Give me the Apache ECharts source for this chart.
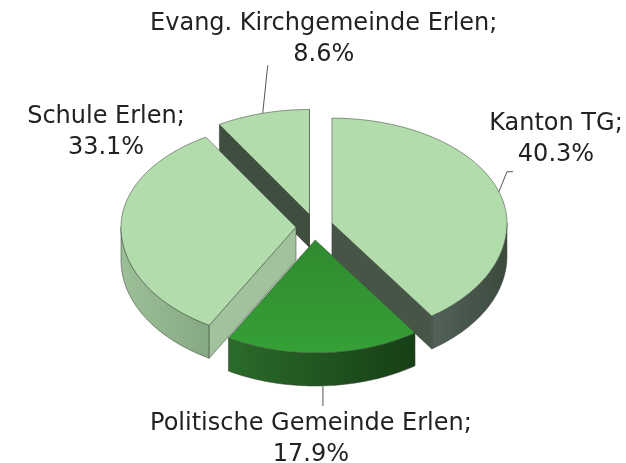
<!DOCTYPE html>
<html>
<head>
<meta charset="utf-8">
<script src="https://cdn.jsdelivr.net/npm/echarts@6/dist/echarts.min.js"></script>
<style>html,body{margin:0;padding:0;background:#fff}#chart{width:626px;height:463px}</style>
</head>
<body>
<div id="chart"></div>
<script>
// ---- data (clockwise from 12 o'clock) ----
const categories = ['Kanton TG', 'Politische Gemeinde Erlen', 'Schule Erlen', 'Evang. Kirchgemeinde Erlen'];
const shares = [40.3, 17.9, 33.1, 8.6];
const percentLabels = ['40.3%', '17.9%', '33.1%', '8.6%'];

// ---- layout / style (not data) ----
const geom = { cx: 314.4, cy: 227, rx: 175, ryTop: 105, ryBot: 113, depth: 33, exX: 18.4, exY: 13 };
const drawRank = [1, 3, 2, 0]; // painter order
const sliceStyle = [
  { top: '#b2dcab', outer: ['#52625a', '#3c4a3d'], radial: '#475547' },
  { top: ['#2f8a2f', '#36a036'], outer: ['#2a6b2a', '#163f16'], radial: '#1f5a1f' },
  { top: '#b2dcab', outer: ['#9dbf98', '#86a882'], radial: '#a2c29d' },
  { top: '#b2dcab', outer: ['#4a584a', '#3e4c3e'], radial: '#3f4e3f' }
];
// leader line offsets (relative to anchor on slice rim) and label-centre offsets
const leaderOffsets = [[[8, -20], [14, -20]], [[0, 20]], [], [[5, -48]]];
const labelOffsets = [[57, -52], [-12, 53], [-15, -129], [61, -74]];
const edgeStroke = 'rgba(55,65,55,0.75)';

const total = shares.reduce((a, b) => a + b, 0);
const startAngles = [];
(function () { let acc = 0; shares.forEach(v => { startAngles.push(acc / total * 360); acc += v; }); })();

function rad(d) { return d * Math.PI / 180; }
function rimPt(ax, ay, th) {
  const c = Math.cos(rad(th)), s = Math.sin(rad(th));
  return [ax + geom.rx * s, ay - (c > 0 ? geom.ryTop : geom.ryBot) * c];
}
function down(p) { return [p[0], p[1] + geom.depth]; }
function grad(c, vertical) {
  if (!Array.isArray(c)) return c;
  return { type: 'linear', x: 0, y: 0, x2: vertical ? 0 : 1, y2: vertical ? 1 : 0,
    colorStops: [{ offset: 0, color: c[0] }, { offset: 1, color: c[1] }] };
}

function renderItem(params, api) {
  const i = params.dataIndex;
  const value = api.value(0);
  const th0 = startAngles[i];
  const th1 = th0 + value / total * 360;
  const mid = (th0 + th1) / 2;
  const ax = geom.cx + geom.exX * Math.sin(rad(mid));
  const ay = geom.cy - geom.exY * Math.cos(rad(mid));
  const apex = [ax, ay];
  const st = sliceStyle[i];
  const base = drawRank[i] * 10;
  const children = [];

  // outer (front) wall
  const a0 = Math.max(th0, 90), a1 = Math.min(th1, 270);
  if (a1 > a0) {
    const topPts = [];
    for (let t = a0; t < a1; t += 1) topPts.push(rimPt(ax, ay, t));
    topPts.push(rimPt(ax, ay, a1));
    const pts = topPts.concat(topPts.slice().reverse().map(down));
    children.push({ type: 'polygon', z2: base + 1, shape: { points: pts },
      style: { fill: grad(st.outer, false), stroke: edgeStroke, lineWidth: 0.7 } });
  }
  // radial walls
  function wall(th) {
    const p = rimPt(ax, ay, th);
    children.push({ type: 'polygon', z2: base + 1, shape: { points: [apex, p, down(p), down(apex)] },
      style: { fill: st.radial, stroke: edgeStroke, lineWidth: 0.7 } });
  }
  const norm = a => ((a % 360) + 360) % 360;
  if (norm(th0) > 180 && norm(th0) < 360) wall(th0);
  if (norm(th1) > 0 && norm(th1) < 180) wall(th1);

  // top face
  const face = [apex];
  for (let t = th0; t < th1; t += 1) face.push(rimPt(ax, ay, t));
  face.push(rimPt(ax, ay, th1));
  children.push({ type: 'polygon', z2: base + 2, shape: { points: face },
    style: { fill: grad(st.top, true), stroke: edgeStroke, lineWidth: 0.7 } });

  // leader + label
  let anchor = rimPt(ax, ay, mid);
  const m = norm(mid);
  if (m > 90 && m < 270) anchor = down(anchor);
  const lo = leaderOffsets[i];
  if (lo.length) {
    const lp = [anchor].concat(lo.map(o => [anchor[0] + o[0], anchor[1] + o[1]]));
    children.push({ type: 'polyline', z2: 100, shape: { points: lp },
      style: { stroke: '#555', lineWidth: 1, fill: null } });
  }
  const lab = labelOffsets[i];
  children.push({ type: 'text', z2: 101,
    style: { text: categories[i] + ';\n' + percentLabels[i], x: anchor[0] + lab[0], y: anchor[1] + lab[1],
      fill: '#222222', font: '24px "DejaVu Sans"', align: 'center', verticalAlign: 'middle', lineHeight: 31 } });

  return { type: 'group', children: children };
}

const chart = echarts.init(document.getElementById('chart'), null, { renderer: 'canvas' });
chart.setOption({
  animation: false,
  backgroundColor: '#ffffff',
  series: [{
    type: 'custom',
    coordinateSystem: 'none',
    renderItem: renderItem,
    data: shares.map((v, i) => ({ name: categories[i], value: [v] }))
  }]
});
</script>
</body>
</html>
